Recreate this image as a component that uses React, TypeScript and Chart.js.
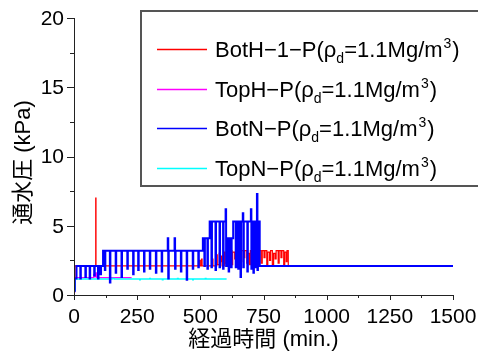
import React, { useEffect, useRef } from "react";
import { Chart, registerables } from "chart.js";

Chart.register(...registerables);

// ---- data (time in min, pressure in kPa); each value holds from its time until the next ----
const botH1P: [number, number][] = [
  [0, 0.3], [4, 2.1], [86, 7.0], [87, 2.1], [497, 2.5], [500, 2.1], [505, 2.6], [507, 2.1],
  [548, 2.6], [550, 2.1], [565, 2.9], [567, 2.2], [575, 3.0], [578, 2.4], [584, 2.8], [586, 2.1],
  [595, 3.1], [598, 2.3], [605, 3.2], [612, 2.5], [616, 3.2], [625, 2.2], [628, 3.1], [636, 2.6],
  [640, 3.2], [648, 2.2], [652, 3.2], [660, 2.4], [664, 3.2], [672, 2.7], [676, 3.2], [684, 2.3],
  [688, 3.0], [694, 2.2], [698, 3.2], [706, 2.5], [710, 3.2], [716, 2.3], [720, 3.2], [728, 2.6],
  [732, 3.2], [740, 2.3], [745, 3.2], [752, 2.7], [756, 3.2], [763, 2.2], [767, 3.1], [774, 2.5],
  [778, 3.2], [785, 2.2], [790, 3.0], [796, 2.6], [800, 3.2], [808, 2.3], [812, 3.2], [819, 2.7],
  [823, 3.2], [830, 2.2], [834, 3.1], [840, 2.4], [843, 3.2], [848, 2.1],
];
const topHP: [number, number][] = [
  [0, 0.2], [3, 1.25], [78, 1.5], [82, 1.3], [86, 1.6], [90, 1.25], [228, 1.25],
];
const botNP: [number, number][] = [
  [0, 0.3], [3, 1.2], [10, 2.1],
  [25, 1.2], [27, 2.1], [45, 1.3], [47, 2.1], [62, 1.2], [64, 2.1], [80, 1.4], [82, 2.1],
  [95, 1.2], [97, 2.1], [105, 1.5], [107, 2.1],
  [115, 3.2], [122, 1.8], [124, 3.2], [142, 0.9], [144, 3.2], [165, 1.6], [167, 3.2],
  [188, 1.3], [190, 3.2], [211, 1.9], [213, 3.2], [234, 1.5], [236, 3.2], [254, 1.8], [256, 3.2],
  [277, 1.7], [279, 3.2], [300, 1.9], [302, 3.2], [324, 1.6], [326, 3.2], [347, 1.7], [349, 3.2],
  [371, 4.1], [373, 1.2], [375, 3.2], [398, 4.1], [400, 1.9], [402, 3.2], [423, 1.7], [425, 3.2],
  [446, 1.1], [448, 3.2], [470, 1.9], [472, 3.2], [492, 2.0], [494, 3.2],
  [510, 4.1], [516, 2.1], [518, 4.1], [528, 1.9], [530, 4.1],
  [537, 5.3], [544, 2.0], [546, 5.3], [560, 1.8], [562, 5.3], [576, 2.0], [578, 5.3],
  [590, 1.9], [592, 5.3], [600, 6.2], [602, 2.1], [604, 4.1], [612, 1.7], [614, 4.1],
  [622, 2.0], [624, 4.1], [630, 5.3], [640, 2.0], [642, 5.3], [650, 1.9], [652, 5.3],
  [659, 1.3], [661, 5.3], [668, 5.9], [670, 2.0], [672, 5.3], [686, 1.7], [688, 5.3],
  [700, 6.2], [702, 1.9], [704, 5.3], [710, 1.6], [712, 5.3], [718, 2.0], [720, 5.3],
  [724, 7.3], [726, 1.8], [728, 5.3], [735, 2.1], [1500, 2.1],
];
const topNP: [number, number][] = [
  [0, 0.3], [4, 1.15], [60, 1.2], [62, 1.15], [150, 1.2], [160, 1.15], [260, 1.1], [262, 1.15],
  [300, 1.2], [302, 1.15], [350, 1.1], [352, 1.15], [410, 1.2], [412, 1.15], [470, 1.1],
  [472, 1.15], [520, 1.2], [522, 1.15], [604, 1.15],
];

const seriesNames = ["BotH\u22121\u2212P", "TopH\u2212P", "BotN\u2212P", "TopN\u2212P"];
const seriesColors = ["#ff0000", "#ff00ff", "#0000ff", "#00ffff"];
const xTicks = [0, 250, 500, 750, 1000, 1250, 1500];
const yTicks = [0, 5, 10, 15, 20];
const xTitle = "経過時間 (min.)";
const yTitle = "通水圧 (kPa)";

const FONT = '"Liberation Sans", "Noto Sans CJK JP", sans-serif';

const axesPlugin = {
  id: "customAxes",
  afterDraw(chart: any) {
    const ctx: CanvasRenderingContext2D = chart.ctx;
    const xs = chart.scales.x;
    const ys = chart.scales.y;
    const ca = chart.chartArea;
    ctx.save();
    ctx.strokeStyle = "#222";
    ctx.fillStyle = "#000";
    ctx.lineWidth = 1;
    ctx.beginPath();
    ctx.moveTo(ca.left + 0.5, ys.getPixelForValue(20));
    ctx.lineTo(ca.left + 0.5, ca.bottom + 5);
    ctx.moveTo(ca.left - 4, ca.bottom + 0.5);
    ctx.lineTo(xs.getPixelForValue(1500), ca.bottom + 0.5);
    ctx.stroke();
    ctx.beginPath();
    for (let v = 0; v <= 20; v += 2.5) {
      const py = Math.round(ys.getPixelForValue(v)) + 0.5;
      const len = v % 5 === 0 ? 7 : 4;
      ctx.moveTo(ca.left - len, py);
      ctx.lineTo(ca.left, py);
    }
    for (let v = 0; v <= 1500; v += 125) {
      const px = Math.round(xs.getPixelForValue(v)) + 0.5;
      const len = v % 250 === 0 ? 5 : 3;
      ctx.moveTo(px, ca.bottom);
      ctx.lineTo(px, ca.bottom + len);
    }
    ctx.stroke();
    ctx.font = `21px ${FONT}`;
    ctx.textAlign = "right";
    ctx.textBaseline = "middle";
    yTicks.forEach((v) => ctx.fillText(String(v), ca.left - 10, ys.getPixelForValue(v) + 1));
    ctx.textAlign = "center";
    xTicks.forEach((v) => ctx.fillText(String(v), xs.getPixelForValue(v), ca.bottom + 22));
    ctx.font = `22px ${FONT}`;
    ctx.fillText(xTitle, (ca.left + ca.right) / 2, ca.bottom + 45);
    ctx.save();
    ctx.translate(24, (ca.top + ca.bottom) / 2 + 6);
    ctx.rotate(-Math.PI / 2);
    ctx.fillText(yTitle, 0, 0);
    ctx.restore();

    ctx.lineWidth = 2;
    ctx.strokeStyle = "#555";
    ctx.beginPath();
    ctx.moveTo(490, 11);
    ctx.lineTo(141, 11);
    ctx.lineTo(141, 186);
    ctx.lineTo(490, 186);
    ctx.stroke();
    const rowY = [49, 89, 128, 168];
    seriesNames.forEach((name, i) => {
      const y = rowY[i];
      ctx.strokeStyle = seriesColors[i];
      ctx.lineWidth = 1.5;
      ctx.beginPath();
      ctx.moveTo(157, y + 0.5);
      ctx.lineTo(207, y + 0.5);
      ctx.stroke();
      ctx.fillStyle = "#000";
      ctx.textAlign = "left";
      ctx.textBaseline = "alphabetic";
      const base = y + 8;
      let x = 215;
      ctx.font = `22px ${FONT}`;
      const t1 = name + "(\u03c1";
      ctx.fillText(t1, x, base);
      x += ctx.measureText(t1).width;
      ctx.font = `14px ${FONT}`;
      ctx.fillText("d", x, base + 6);
      x += ctx.measureText("d").width;
      ctx.font = `22px ${FONT}`;
      const t2 = "=1.1Mg/m";
      ctx.fillText(t2, x, base);
      x += ctx.measureText(t2).width;
      ctx.font = `14px ${FONT}`;
      ctx.fillText("3", x + 1, base - 9);
      x += ctx.measureText("3").width + 2;
      ctx.font = `22px ${FONT}`;
      ctx.fillText(")", x, base);
    });
    ctx.restore();
  },
};

function toXY(arr: [number, number][]) {
  return arr.map(([x, y]) => ({ x, y }));
}

export default function App() {
  const ref = useRef<HTMLCanvasElement | null>(null);
  useEffect(() => {
    if (!ref.current) return;
    const sets = [botH1P, topHP, botNP, topNP];
    const orders = [2, 3, 0, 1];
    const widths = [1.2, 1.2, 2, 1.5];
    const chart = new Chart(ref.current, {
      type: "line",
      data: {
        datasets: sets.map((s, i) => ({
          label: seriesNames[i],
          data: toXY(s),
          borderColor: seriesColors[i],
          backgroundColor: seriesColors[i],
          borderWidth: widths[i],
          pointRadius: 0,
          stepped: "before" as const,
          fill: false,
          order: orders[i],
        })),
      },
      options: {
        responsive: false,
        animation: false,
        devicePixelRatio: 1,
        layout: { padding: { left: 74, right: 25, top: 18, bottom: 61 } },
        scales: {
          x: { type: "linear", min: 0, max: 1500, display: false },
          y: { type: "linear", min: 0, max: 20, display: false },
        },
        plugins: { legend: { display: false }, tooltip: { enabled: false } },
      },
      plugins: [axesPlugin],
    });
    return () => chart.destroy();
  }, []);
  return (
    <div style={{ position: "absolute", left: 0, top: 0, width: 478, height: 356, background: "#fff" }}>
      <canvas ref={ref} width={478} height={356} style={{ width: 478, height: 356 }} />
    </div>
  );
}
